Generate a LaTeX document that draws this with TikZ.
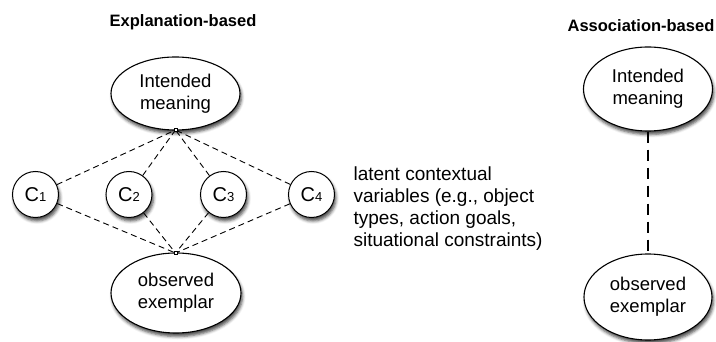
\documentclass[tikz,border=0pt]{standalone}
\usepackage{fontspec}
\setmainfont{Liberation Sans}
\usetikzlibrary{shapes.geometric,shadows.blur}
\begin{document}
\begin{tikzpicture}[x=1pt,y=-1pt,
  every node/.style={font=\fontsize{18.5}{22}\selectfont},
  shad/.style={blur shadow={shadow xshift=1.5pt, shadow yshift=-3.5pt, shadow blur radius=3pt, shadow opacity=70}},
  bigell/.style={ellipse, draw, line width=1.1pt, fill=white, inner sep=0pt, align=center, shad},
  cvar/.style={circle, draw, line width=1pt, fill=white, minimum size=46pt, inner sep=0pt, shad, font=\fontsize{20}{22}\selectfont},
  dlink/.style={dash pattern=on 6pt off 4pt, line width=0.9pt},
  alink/.style={line width=2.6pt, dash pattern=on 11pt off 7pt},
  port/.style={rectangle, draw, fill=white, minimum size=3pt, inner sep=0pt, line width=0.6pt},
  ttl/.style={font=\fontsize{16.5}{20}\selectfont\bfseries}]
\useasboundingbox (0,0) rectangle (716,342);

\node[ttl] (t1) at (183,22) {Explanation-based};
\node[ttl] (t2) at (641,26) {Association-based};

\node[bigell, minimum width=129pt, minimum height=73pt] (im) at (175.5,93.5) {Intended\\meaning};
\node[bigell, minimum width=130pt, minimum height=80pt] (oe) at (176,293) {observed\\exemplar};

\coordinate (ptop) at (175.5,130);
\coordinate (pbot) at (175.5,253);

\node[cvar] (c1) at (35.5,194.5) {C{\fontsize{13}{13}\selectfont 1}};
\node[cvar] (c2) at (129,194.5) {C{\fontsize{13}{13}\selectfont 2}};
\node[cvar] (c3) at (223.5,194.5) {C{\fontsize{13}{13}\selectfont 3}};
\node[cvar] (c4) at (311.5,194.5) {C{\fontsize{13}{13}\selectfont 4}};

\foreach \c in {c1,c2,c3,c4} {
  \draw[dlink] (\c) -- (ptop);
  \draw[dlink] (\c) -- (pbot);
}
\node[port] (pt) at (ptop) {};
\node[port] (pb) at (pbot) {};

\node[anchor=north west, align=left, font=\fontsize{19}{22}\selectfont] (lat) at (350,163) {latent contextual\\variables (e.g., object\\types, action goals,\\situational constraints)};

\node[bigell, minimum width=129pt, minimum height=84pt] (im2) at (648,89) {Intended\\meaning};
\node[bigell, minimum width=128pt, minimum height=86pt] (oe2) at (648,297) {observed\\exemplar};
\draw[alink] (im2) -- (oe2);
\end{tikzpicture}
\end{document}
